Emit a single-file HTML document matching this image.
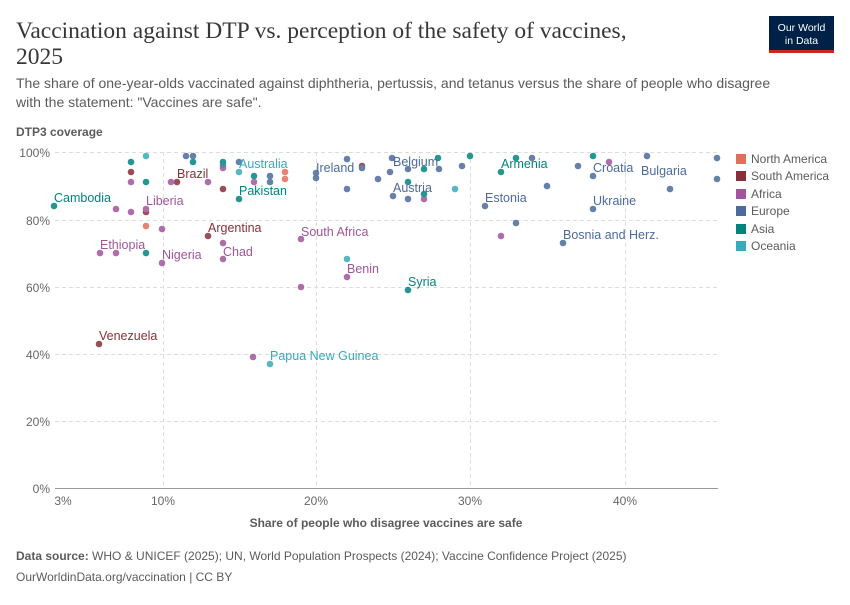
<!DOCTYPE html>
<html><head><meta charset="utf-8"><style>
body{margin:0;background:#fff;width:850px;height:600px;overflow:hidden;font-family:"Liberation Sans",sans-serif}
</style></head><body>
<svg width="850" height="600" xmlns="http://www.w3.org/2000/svg" font-family="Liberation Sans, sans-serif">
<text x="16" y="38" font-family="Liberation Serif, serif" font-size="23.5" fill="#373737">Vaccination against DTP vs. perception of the safety of vaccines,</text>
<text x="16" y="64" font-family="Liberation Serif, serif" font-size="23.5" fill="#373737">2025</text>
<rect x="769" y="16" width="65" height="36" fill="#002147"/>
<rect x="769" y="50" width="65" height="3" fill="#ce261e"/>
<text x="801.5" y="31" font-size="10.5" fill="#fff" text-anchor="middle">Our World</text>
<text x="801.5" y="44" font-size="10.5" fill="#fff" text-anchor="middle">in Data</text>
<text x="16" y="88" font-size="14" fill="#5b5b5b">The share of one-year-olds vaccinated against diphtheria, pertussis, and tetanus versus the share of people who disagree</text>
<text x="16" y="107" font-size="14" fill="#5b5b5b">with the statement: "Vaccines are safe".</text>
<text x="16" y="136" font-size="12" font-weight="bold" fill="#5b5b5b">DTP3 coverage</text>
<g stroke="#ddd" stroke-dasharray="4,3" stroke-width="1">
<line x1="55" x2="718" y1="152.5" y2="152.5"/><line x1="55" x2="718" y1="220.5" y2="220.5"/><line x1="55" x2="718" y1="287.5" y2="287.5"/><line x1="55" x2="718" y1="354.5" y2="354.5"/><line x1="55" x2="718" y1="421.5" y2="421.5"/>
<line x1="163.5" x2="163.5" y1="152" y2="488"/><line x1="316.5" x2="316.5" y1="152" y2="488"/><line x1="470.5" x2="470.5" y1="152" y2="488"/><line x1="625.5" x2="625.5" y1="152" y2="488"/>
</g>
<line x1="55" x2="718" y1="488.5" y2="488.5" stroke="#999"/>
<g font-size="12" fill="#666" text-anchor="end">
<text x="50" y="157">100%</text><text x="50" y="225">80%</text><text x="50" y="292">60%</text><text x="50" y="359">40%</text><text x="50" y="426">20%</text><text x="50" y="493">0%</text>
</g>
<g font-size="12" fill="#666" text-anchor="middle">
<text x="63" y="505">3%</text><text x="163" y="505">10%</text><text x="316" y="505">20%</text><text x="470" y="505">30%</text><text x="625" y="505">40%</text>
</g>
<text x="386" y="527" font-size="12" font-weight="bold" fill="#5b5b5b" text-anchor="middle">Share of people who disagree vaccines are safe</text>
<g opacity="0.85">
<g fill="#38aaba"><circle cx="146" cy="156" r="3.3"/><circle cx="239" cy="172" r="3.3"/><circle cx="455" cy="189" r="3.3"/><circle cx="347" cy="259" r="3.3"/><circle cx="270" cy="364" r="3.3"/></g>
<g fill="#e56e5a"><circle cx="285" cy="172" r="3.3"/><circle cx="285" cy="179" r="3.3"/><circle cx="146" cy="226" r="3.3"/></g>
<g fill="#883039"><circle cx="131" cy="172" r="3.3"/><circle cx="177" cy="182" r="3.3"/><circle cx="223" cy="189" r="3.3"/><circle cx="146" cy="212" r="3.3"/><circle cx="208" cy="236" r="3.3"/><circle cx="362" cy="166" r="3.3"/><circle cx="99" cy="344" r="3.3"/></g>
<g fill="#a2559c"><circle cx="223" cy="168" r="3.3"/><circle cx="254" cy="182" r="3.3"/><circle cx="131" cy="182" r="3.3"/><circle cx="171" cy="182" r="3.3"/><circle cx="208" cy="182" r="3.3"/><circle cx="116" cy="209" r="3.3"/><circle cx="131" cy="212" r="3.3"/><circle cx="146" cy="209" r="3.3"/><circle cx="162" cy="229" r="3.3"/><circle cx="223" cy="243" r="3.3"/><circle cx="223" cy="259" r="3.3"/><circle cx="100" cy="253" r="3.3"/><circle cx="116" cy="253" r="3.3"/><circle cx="162" cy="263" r="3.3"/><circle cx="301" cy="239" r="3.3"/><circle cx="301" cy="287" r="3.3"/><circle cx="609" cy="162" r="3.3"/><circle cx="424" cy="199" r="3.3"/><circle cx="501" cy="236" r="3.3"/><circle cx="347" cy="277" r="3.3"/><circle cx="253" cy="357" r="3.3"/></g>
<g fill="#4c6a9c"><circle cx="186" cy="156" r="3.3"/><circle cx="193" cy="156" r="3.3"/><circle cx="223" cy="165" r="3.3"/><circle cx="239" cy="162" r="3.3"/><circle cx="270" cy="176" r="3.3"/><circle cx="270" cy="182" r="3.3"/><circle cx="316" cy="173" r="3.3"/><circle cx="316" cy="178" r="3.3"/><circle cx="347" cy="159" r="3.3"/><circle cx="362" cy="168" r="3.3"/><circle cx="392" cy="158" r="3.3"/><circle cx="408" cy="169" r="3.3"/><circle cx="439" cy="169" r="3.3"/><circle cx="390" cy="172" r="3.3"/><circle cx="378" cy="179" r="3.3"/><circle cx="462" cy="166" r="3.3"/><circle cx="532" cy="158" r="3.3"/><circle cx="578" cy="166" r="3.3"/><circle cx="593" cy="176" r="3.3"/><circle cx="647" cy="156" r="3.3"/><circle cx="717" cy="158" r="3.3"/><circle cx="717" cy="179" r="3.3"/><circle cx="347" cy="189" r="3.3"/><circle cx="393" cy="196" r="3.3"/><circle cx="408" cy="199" r="3.3"/><circle cx="547" cy="186" r="3.3"/><circle cx="670" cy="189" r="3.3"/><circle cx="485" cy="206" r="3.3"/><circle cx="593" cy="209" r="3.3"/><circle cx="516" cy="223" r="3.3"/><circle cx="563" cy="243" r="3.3"/></g>
<g fill="#00847e"><circle cx="131" cy="162" r="3.3"/><circle cx="193" cy="162" r="3.3"/><circle cx="223" cy="162" r="3.3"/><circle cx="254" cy="176" r="3.3"/><circle cx="146" cy="182" r="3.3"/><circle cx="239" cy="199" r="3.3"/><circle cx="54" cy="206" r="3.3"/><circle cx="146" cy="253" r="3.3"/><circle cx="438" cy="158" r="3.3"/><circle cx="424" cy="169" r="3.3"/><circle cx="470" cy="156" r="3.3"/><circle cx="516" cy="158" r="3.3"/><circle cx="501" cy="172" r="3.3"/><circle cx="593" cy="156" r="3.3"/><circle cx="408" cy="182" r="3.3"/><circle cx="424" cy="194" r="3.3"/><circle cx="408" cy="290" r="3.3"/></g>
</g>
<g font-size="12.5">
<text x="54" y="202" fill="#00847e">Cambodia</text>
<text x="177" y="178" fill="#883039">Brazil</text>
<text x="239" y="168" fill="#38aaba">Australia</text>
<text x="239" y="195" fill="#00847e">Pakistan</text>
<text x="146" y="205" fill="#a2559c">Liberia</text>
<text x="208" y="232" fill="#883039">Argentina</text>
<text x="100" y="249" fill="#a2559c">Ethiopia</text>
<text x="162" y="259" fill="#a2559c">Nigeria</text>
<text x="223" y="256" fill="#a2559c">Chad</text>
<text x="301" y="236" fill="#a2559c">South Africa</text>
<text x="316" y="172" fill="#4c6a9c">Ireland</text>
<text x="393" y="166" fill="#4c6a9c">Belgium</text>
<text x="393" y="192" fill="#4c6a9c">Austria</text>
<text x="501" y="168" fill="#00847e">Armenia</text>
<text x="593" y="172" fill="#4c6a9c">Croatia</text>
<text x="641" y="175" fill="#4c6a9c">Bulgaria</text>
<text x="485" y="202" fill="#4c6a9c">Estonia</text>
<text x="593" y="205" fill="#4c6a9c">Ukraine</text>
<text x="563" y="239" fill="#4c6a9c">Bosnia and Herz.</text>
<text x="347" y="273" fill="#a2559c">Benin</text>
<text x="408" y="286" fill="#00847e">Syria</text>
<text x="99" y="340" fill="#883039">Venezuela</text>
<text x="270" y="360" fill="#38aaba">Papua New Guinea</text>
</g>
<g font-size="12" fill="#5b5b5b">
<rect x="736" y="154" width="10" height="10" fill="#e56e5a"/><text x="751" y="163">North America</text>
<rect x="736" y="171" width="10" height="10" fill="#883039"/><text x="751" y="180">South America</text>
<rect x="736" y="189" width="10" height="10" fill="#a2559c"/><text x="751" y="198">Africa</text>
<rect x="736" y="206" width="10" height="10" fill="#4c6a9c"/><text x="751" y="215">Europe</text>
<rect x="736" y="224" width="10" height="10" fill="#00847e"/><text x="751" y="233">Asia</text>
<rect x="736" y="241" width="10" height="10" fill="#38aaba"/><text x="751" y="250">Oceania</text>
</g>
<text x="16" y="560" font-size="12" fill="#5b5b5b"><tspan font-weight="bold">Data source:</tspan> WHO &amp; UNICEF (2025); UN, World Population Prospects (2024); Vaccine Confidence Project (2025)</text>
<text x="16" y="581" font-size="12" fill="#5b5b5b">OurWorldinData.org/vaccination | CC BY</text>
</svg>
</body></html>
